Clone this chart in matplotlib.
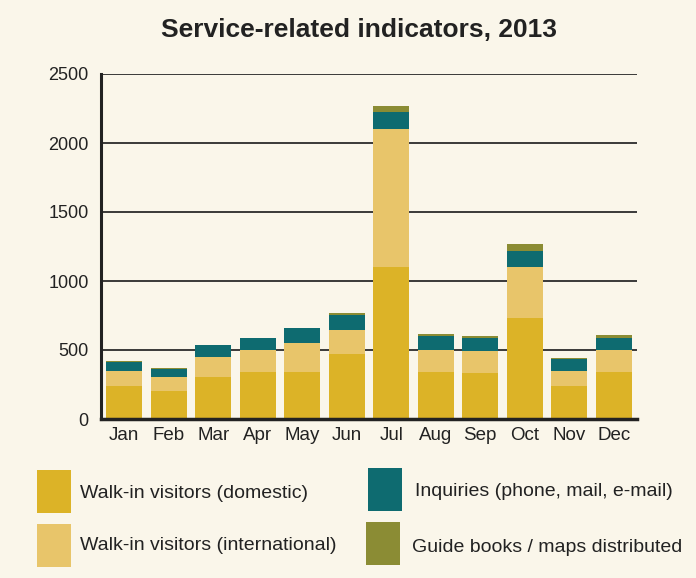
import matplotlib.pyplot as plt
import numpy as np
from matplotlib.patches import Rectangle

months = ["Jan", "Feb", "Mar", "Apr", "May", "Jun", "Jul", "Aug", "Sep", "Oct", "Nov", "Dec"]
domestic = [238, 200, 303, 340, 340, 468, 1105, 340, 330, 735, 240, 340]
international = [108, 103, 144, 158, 208, 180, 995, 160, 160, 370, 105, 160]
inquiries = [67, 60, 87, 87, 108, 108, 123, 105, 100, 115, 90, 86]
guides = [7, 7, 0, 0, 0, 14, 48, 14, 15, 48, 7, 20]

labels = ["Walk-in visitors (domestic)", "Walk-in visitors (international)",
          "Inquiries (phone, mail, e-mail)", "Guide books / maps distributed"]
colors = ["#DCB327", "#E8C56A", "#0E6B70", "#8B8C34"]
bg = "#FAF6EA"

plt.rcParams['font.family'] = ['Liberation Sans', 'DejaVu Sans']

fig = plt.figure(figsize=(6.96, 5.78), dpi=100, facecolor=bg)
ax = fig.add_axes([101/696, 1-419/578, 536/696, 345/578])
ax.set_facecolor(bg)

x = np.arange(len(months))
series = [domestic, international, inquiries, guides]
bottom = np.zeros(len(months))
for vals, c in zip(series, colors):
    ax.bar(x, vals, width=0.81, bottom=bottom, color=c, zorder=3)
    bottom += np.array(vals)

ax.set_ylim(0, 2500)
ax.set_xlim(-0.52, 11.52)
ax.set_yticks([0, 500, 1000, 1500, 2000, 2500])
ax.set_xticks(x)
ax.set_xticklabels(months)
ax.tick_params(length=0, labelsize=13, colors="#222222", pad=9)
ax.tick_params(axis="x", labelsize=13.5, pad=6)
for yv in [500, 1000, 1500, 2000, 2500]:
    ax.axhline(yv, color="#2b2b2b", lw=1.3, zorder=2)

for s in ["top", "right"]:
    ax.spines[s].set_visible(False)
ax.spines["left"].set_linewidth(2.2)
ax.spines["left"].set_color("#222222")
ax.spines["bottom"].set_linewidth(2.5)
ax.spines["bottom"].set_color("#222222")
ax.spines["bottom"].set_zorder(5)

fig.text(359/696, 1-30/578, "Service-related indicators, 2013", ha="center", va="center",
         fontsize=19, fontweight="bold", color="#222222")

# legend drawn in figure pixels
W, H = 696, 578
boxes = [(37, 470), (37, 524), (368, 468), (366, 522)]
text_pos = [(80, 493), (80, 545), (415, 491), (412, 547)]
for (bx, by), (tx, ty), c, lab in zip(boxes, text_pos, colors, labels):
    fig.patches.append(Rectangle((bx/W, 1-(by+43)/H), 34/W, 43/H, transform=fig.transFigure,
                                 facecolor=c, edgecolor="none"))
    fig.text(tx/W, 1-ty/H, lab, ha="left", va="center", fontsize=14, color="#222222")

fig.savefig("out.png", dpi=100, facecolor=bg)
